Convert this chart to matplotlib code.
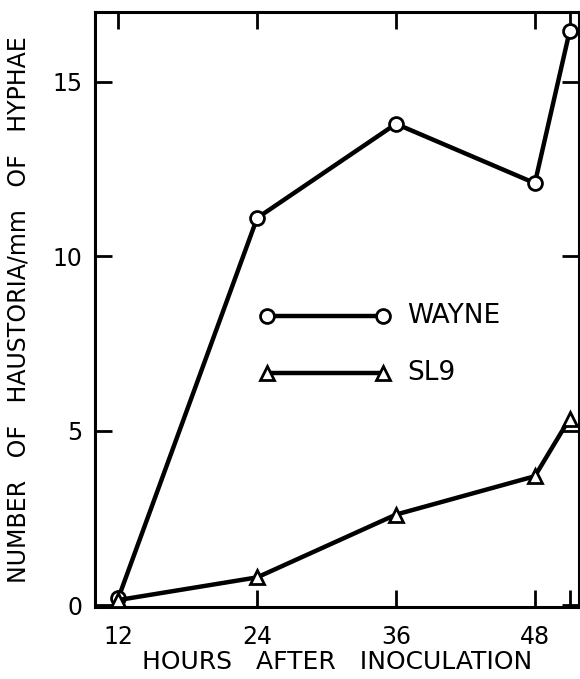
import matplotlib
matplotlib.use("Agg")
import matplotlib.pyplot as plt

# hours after inoculation
hours = [12, 24, 36, 48, 51]
# haustoria / mm of hyphae
wayne = [0.2, 11.1, 13.8, 12.1, 16.45]
sl9 = [0.15, 0.8, 2.6, 3.7, 5.35]

xticks = [12, 24, 36, 48]
yticks = [0, 5, 10, 15]

plt.rcParams['font.family'] = ['DejaVu Sans']

fig = plt.figure(figsize=(5.8, 6.79), dpi=100)
ax = fig.add_axes([0.164, 0.106, 0.834, 0.876])

lw = 3.2
ax.plot(hours, wayne, color='black', linewidth=lw, marker='o', markersize=10,
        markerfacecolor='white', markeredgewidth=2, zorder=3)
ax.plot(hours, sl9, color='black', linewidth=lw, marker='^', markersize=10,
        markerfacecolor='white', markeredgewidth=2, zorder=3)

# legend drawn by hand inside the axes
for yy, mk, name in [(0.489, 'o', 'WAYNE'), (0.393, '^', 'SL9')]:
    ax.plot([0.355, 0.595], [yy, yy], transform=ax.transAxes, color='black',
            linewidth=lw, marker=mk, markersize=10, markerfacecolor='white',
            markeredgewidth=2, clip_on=False)
    ax.text(0.645, yy, name, transform=ax.transAxes, fontsize=19,
            va='center', ha='left')

ax.set_xlim(10, 51.8)
ax.set_ylim(-0.05, 17)
ax.set_xticks(xticks + [51])
ax.set_xticklabels([str(t) for t in xticks] + [''])
ax.set_yticks(yticks)
ax.set_yticklabels([str(t) for t in yticks])
ax.tick_params(direction='in', length=12, width=2, labelsize=17,
               top=True, right=True)
ax.tick_params(axis='x', pad=13)
ax.tick_params(axis='y', pad=9)

for s in ax.spines.values():
    s.set_linewidth(2.2)

ax.set_xlabel('HOURS   AFTER   INOCULATION', fontsize=18, labelpad=1)
ax.set_ylabel('NUMBER   OF   HAUSTORIA/mm   OF   HYPHAE', fontsize=17,
              labelpad=16)

fig.savefig('out.png', dpi=100)
